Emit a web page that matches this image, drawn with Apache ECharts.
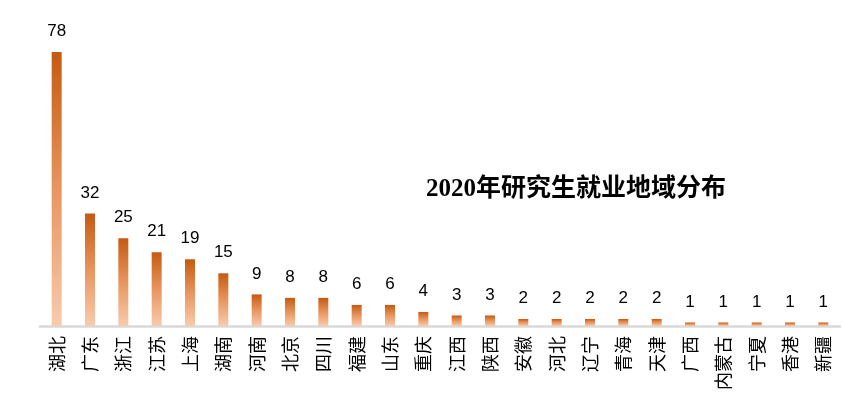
<!DOCTYPE html>
<html><head><meta charset="utf-8">
<script src="https://cdn.jsdelivr.net/npm/echarts@6/dist/echarts.min.js"></script>
<style>html,body{margin:0;padding:0;background:#fff}#c{width:843px;height:400px}</style>
</head><body><div id="c"></div>
<script>
const categories = ['湖北','广东','浙江','江苏','上海','湖南','河南','北京','四川','福建','山东','重庆','江西','陕西','安徽','河北','辽宁','青海','天津','广西','内蒙古','宁夏','香港','新疆'];
const values = [78,32,25,21,19,15,9,8,8,6,6,4,3,3,2,2,2,2,2,1,1,1,1,1];
const titleText = '2020年研究生就业地域分布';
const chart = echarts.init(document.getElementById('c'));
chart.setOption({
  animation:false,
  title:{text:titleText,left:571,top:172,textAlign:'center',
    textStyle:{fontFamily:'Liberation Serif, Noto Sans CJK SC',fontWeight:'bold',fontSize:25,color:'#000'}},
  grid:{left:40,right:3,top:52,bottom:74},
  xAxis:{type:'category',data:categories,
    axisLine:{lineStyle:{color:'#d9d9d9',width:2.5}},axisTick:{show:false},
    axisLabel:{rotate:90,interval:0,fontSize:18,color:'#000',margin:10,fontFamily:'Noto Sans CJK SC'}},
  yAxis:{type:'value',min:0,max:78,show:false,splitLine:{show:false}},
  series:[{type:'bar',data:values,barWidth:10,
    itemStyle:{color:new echarts.graphic.LinearGradient(0,0,0,1,[{offset:0,color:'#C55A11'},{offset:0.5,color:'#E8955E'},{offset:1,color:'#F8CBAD'}])},
    label:{show:true,position:'top',distance:12,fontSize:17,color:'#000',fontFamily:'Liberation Sans'}}]
});
</script></body></html>
